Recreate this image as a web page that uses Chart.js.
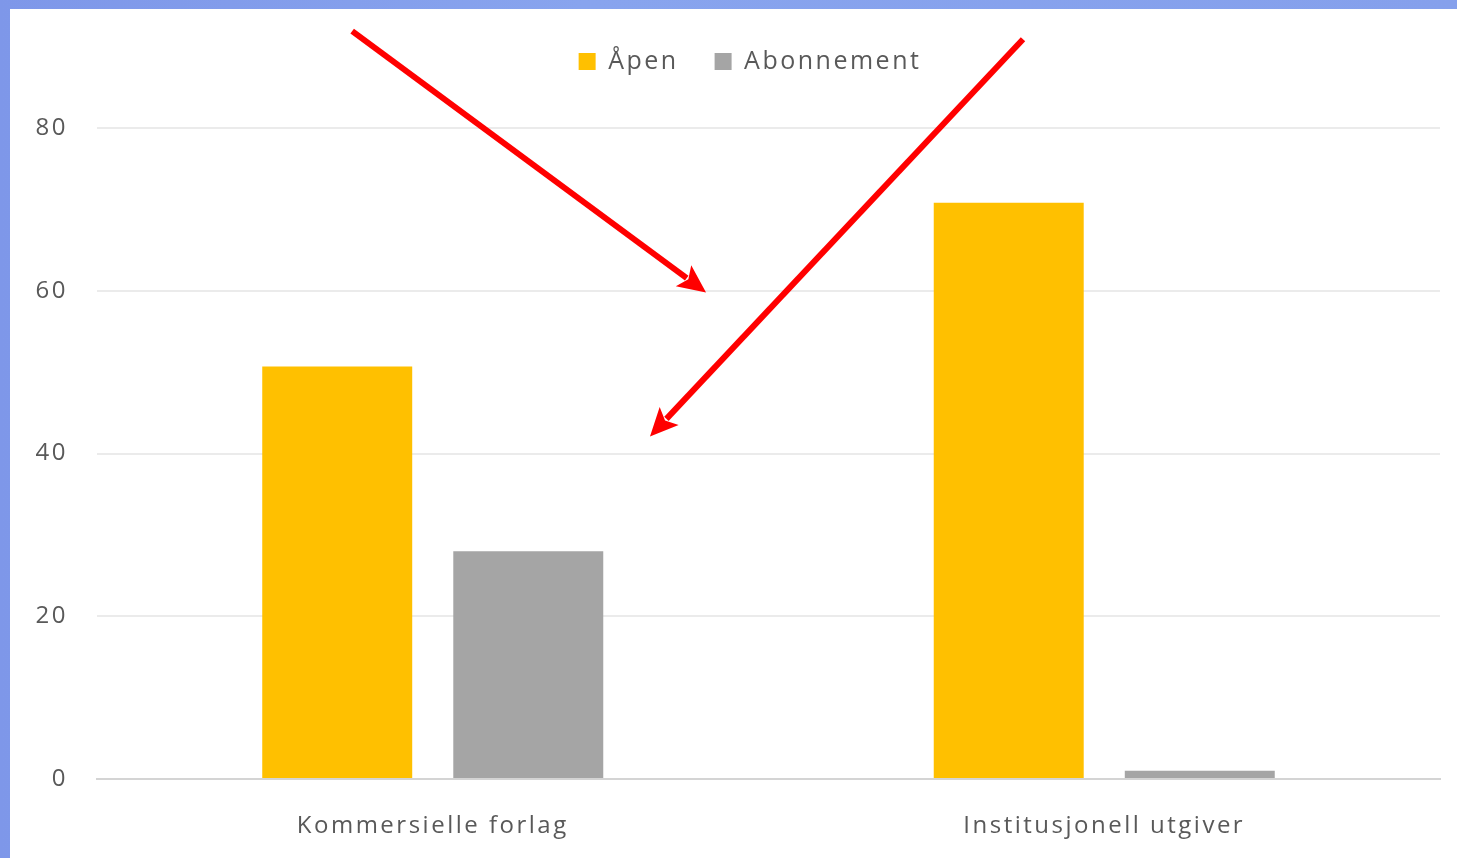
<!DOCTYPE html>
<html>
<head>
<meta charset="utf-8">
<script src="https://cdn.jsdelivr.net/npm/chart.js@4.4.1/dist/chart.umd.min.js"></script>
<style>
  html, body { margin: 0; padding: 0; }
  body {
    width: 1457px; height: 858px; overflow: hidden;
    background: linear-gradient(90deg, #7e97e9 0%, #88a4ee 40%, #85a0ec 100%);
  }
  #wrap {
    position: absolute; left: 10px; top: 9px;
    width: 1447px; height: 849px; background: #ffffff;
  }
</style>
</head>
<body>
<div id="wrap"><canvas id="myChart"></canvas></div>
<script>
// chart data
const categories = ['Kommersielle forlag', 'Institusjonell utgiver'];
const seriesNames = ['Åpen', 'Abonnement'];
const apenValues = [50.7, 70.8];
const abonnementValues = [28, 1];
const yTicks = [0, 20, 40, 60, 80];

// arrows given in axis units (category index, value)
const arrowsFrom = [[-0.12, 91.9], [0.879, 90.9]];
const arrowsTo = [[0.407, 59.8], [0.3235, 42.1]];

const textGrey = '#595959';
const fontFamily = "'Open Sans', 'Noto Sans', sans-serif";

// wider letter spacing, like the original office rendering
const spacingPlugin = {
  id: 'spacing',
  beforeLayout(chart) { chart.ctx.letterSpacing = '2.5px'; },
  beforeDraw(chart) { chart.ctx.letterSpacing = '2.5px'; }
};

// extra room under the legend, and legend a bit right of centre
const legendGapPlugin = {
  id: 'legendGap',
  afterInit(chart) {
    const legend = chart.legend;
    const origFit = legend.fit;
    legend.fit = function () {
      origFit.call(this);
      this.height += 44;
    };
  },
  afterLayout(chart) {
    chart.legend.left += 50;
  }
};

const arrowPlugin = {
  id: 'arrows',
  afterDraw(chart) {
    const ctx = chart.ctx;
    const xs = chart.scales.x, ys = chart.scales.y;
    ctx.save();
    ctx.strokeStyle = '#ff0000';
    ctx.fillStyle = '#ff0000';
    ctx.lineWidth = 6;
    arrowsFrom.forEach((from, i) => {
      const to = arrowsTo[i];
      const x1 = xs.getPixelForValue(from[0]), y1 = ys.getPixelForValue(from[1]);
      const x2 = xs.getPixelForValue(to[0]), y2 = ys.getPixelForValue(to[1]);
      const ang = Math.atan2(y2 - y1, x2 - x1);
      const headLen = 28, headW = 13, notch = 6;
      ctx.beginPath();
      ctx.moveTo(x1, y1);
      ctx.lineTo(x2 - Math.cos(ang) * (headLen - 4), y2 - Math.sin(ang) * (headLen - 4));
      ctx.stroke();
      const bx = x2 - Math.cos(ang) * headLen, by = y2 - Math.sin(ang) * headLen;
      const nx = x2 - Math.cos(ang) * (headLen - notch), ny = y2 - Math.sin(ang) * (headLen - notch);
      ctx.beginPath();
      ctx.moveTo(x2, y2);
      ctx.lineTo(bx + Math.sin(ang) * headW, by - Math.cos(ang) * headW);
      ctx.lineTo(nx, ny);
      ctx.lineTo(bx - Math.sin(ang) * headW, by + Math.cos(ang) * headW);
      ctx.closePath();
      ctx.fill();
    });
    ctx.restore();
  }
};

var ctx = document.getElementById('myChart').getContext('2d');

var myChart = new Chart(ctx, {
  type: 'bar',
  data: {
    labels: categories,
    datasets: [{
      label: seriesNames[0],
      data: apenValues,
      backgroundColor: '#ffc000',
      categoryPercentage: 0.569,
      barPercentage: 0.785
    }, {
      label: seriesNames[1],
      data: abonnementValues,
      backgroundColor: '#a5a5a5',
      categoryPercentage: 0.569,
      barPercentage: 0.785
    }]
  },
  options: {
    responsive: true,
    maintainAspectRatio: false,
    animation: false,
    layout: { padding: { left: 0, right: 17, top: 4, bottom: 0 } },
    plugins: {
      legend: {
        position: 'top',
        labels: {
          boxWidth: 17,
          boxHeight: 17,
          padding: 36,
          color: textGrey,
          font: { family: fontFamily, size: 25 }
        }
      },
      tooltip: { enabled: false }
    },
    scales: {
      x: {
        afterFit(scale) { scale.height = 79; },
        grid: { display: false },
        border: { display: true, color: '#d4d4d4', width: 2 },
        ticks: { color: textGrey, padding: 25, font: { family: fontFamily, size: 24 } }
      },
      y: {
        min: 0,
        max: 80,
        afterFit(scale) { scale.width = 87; },
        afterBuildTicks(scale) { scale.ticks = yTicks.map(v => ({ value: v })); },
        grid: { color: '#ebebeb', lineWidth: 2, drawTicks: false },
        border: { display: false },
        ticks: { color: textGrey, padding: 29, font: { family: fontFamily, size: 24 } }
      }
    }
  },
  plugins: [spacingPlugin, legendGapPlugin, arrowPlugin]
});
</script>
</body>
</html>
